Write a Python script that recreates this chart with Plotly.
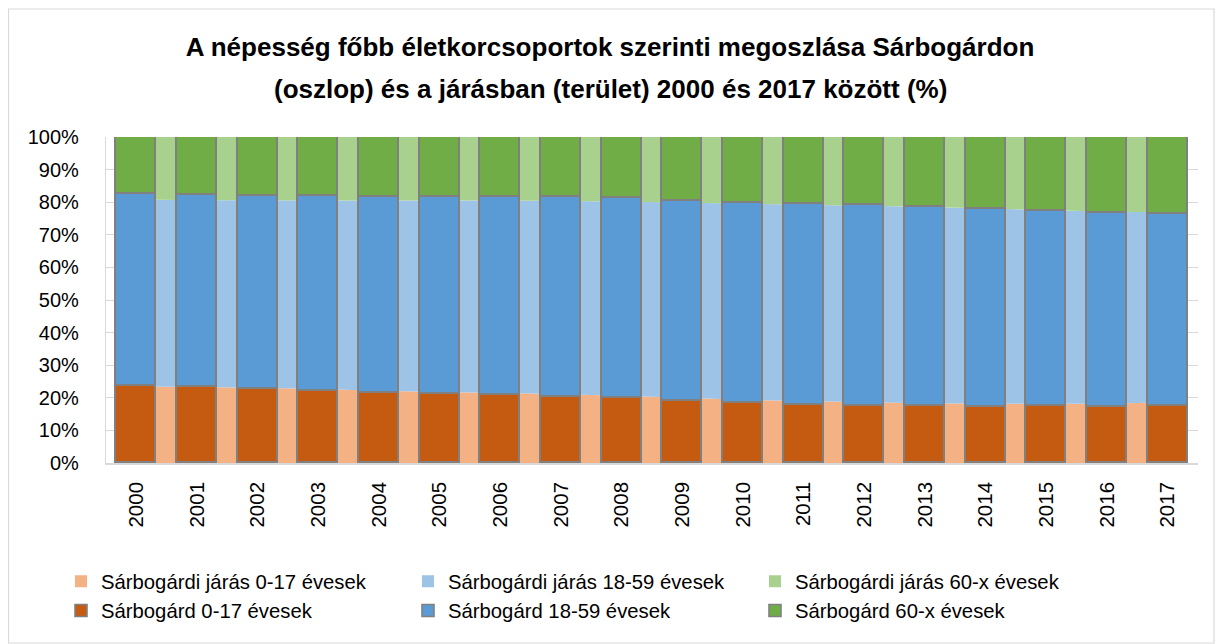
import plotly.graph_objects as go

years = [str(y) for y in range(2000, 2018)]

# Sárbogárdi járás (district) shares, % (area)
jaras_0_17 = [23.5, 23.3, 23.1, 22.7, 22.2, 21.8, 21.5, 21.1, 20.6, 20.0, 19.4, 19.0, 18.6, 18.3, 18.2, 18.2, 18.2, 18.6]
jaras_18_59 = [57.3, 57.3, 57.5, 57.8, 58.3, 58.7, 59.0, 59.3, 59.6, 59.8, 60.2, 60.2, 60.3, 60.3, 59.9, 59.4, 58.9, 58.3]
jaras_60x = [19.2, 19.4, 19.4, 19.5, 19.5, 19.5, 19.5, 19.6, 19.8, 20.2, 20.4, 20.8, 21.1, 21.4, 21.9, 22.4, 22.9, 23.1]

# Sárbogárd (town) shares, % (columns)
sarbogard_0_17 = [23.5, 23.2, 22.8, 22.0, 21.6, 21.2, 20.8, 20.4, 19.8, 19.0, 18.3, 17.9, 17.5, 17.4, 17.2, 17.4, 17.3, 17.4]
sarbogard_18_59 = [58.9, 58.9, 59.1, 59.8, 60.0, 60.4, 60.8, 61.1, 61.4, 61.5, 61.6, 61.5, 61.5, 61.2, 60.6, 60.0, 59.4, 59.0]
sarbogard_60x = [17.6, 17.9, 18.1, 18.2, 18.4, 18.4, 18.4, 18.5, 18.8, 19.5, 20.1, 20.6, 21.0, 21.4, 22.2, 22.6, 23.3, 23.6]

y_ticks = list(range(0, 101, 10))
y_tick_labels = [f"{v}%" for v in y_ticks]

title_line1 = "A népesség főbb életkorcsoportok szerinti megoszlása Sárbogárdon"
title_line2 = "(oszlop) és a járásban (terület) 2000 és 2017 között (%)"

jaras_names = ["Sárbogárdi járás 0-17 évesek", "Sárbogárdi járás 18-59 évesek", "Sárbogárdi járás 60-x évesek"]
town_names = ["Sárbogárd 0-17 évesek", "Sárbogárd 18-59 évesek", "Sárbogárd 60-x évesek"]
jaras_colors = ["#F4B183", "#9DC3E6", "#A9D18E"]
town_colors = ["#C55A11", "#5B9BD5", "#70AD47"]
legend_ids = ["legend", "legend2", "legend3"]

FONT = "Liberation Sans, Arial, sans-serif"

W, H = 1215, 636
ML, MR, MT, MB = 98, 25, 129, 181
PW, PH = W - ML - MR, H - MT - MB
PAGE_OFF = 8  # default page body margin

x_idx = list(range(len(years)))

fig = go.Figure()

# District: stacked areas (base axes, drawn below the columns)
for name, vals, col in zip(jaras_names, [jaras_0_17, jaras_18_59, jaras_60x], jaras_colors):
    fig.add_trace(go.Scatter(
        x=x_idx, y=vals, name=name, mode="none", stackgroup="jaras",
        fillcolor=col, showlegend=False, hoverinfo="name+y",
        xaxis="x", yaxis="y",
    ))

# legend swatches for the district series
for name, col, lg in zip(jaras_names, jaras_colors, legend_ids):
    fig.add_trace(go.Bar(
        x=[None], y=[None], name=name, marker=dict(color=col, line=dict(width=0)),
        xaxis="x", yaxis="y", showlegend=True, legend=lg,
    ))

# Town: stacked columns on overlay axes (drawn above the areas)
for name, vals, col, lg in zip(town_names, [sarbogard_0_17, sarbogard_18_59, sarbogard_60x], town_colors, legend_ids):
    fig.add_trace(go.Bar(
        x=x_idx, y=vals, name=name, width=0.66,
        marker=dict(color=col, line=dict(color="#808080", width=1.6)),
        xaxis="x2", yaxis="y2", legend=lg,
    ))

legend_common = dict(
    orientation="v", xanchor="left", y=-0.302, yanchor="top",
    font=dict(family=FONT, size=20.3, color="#000000"), itemwidth=30,
    traceorder="normal", bgcolor="rgba(0,0,0,0)",
)
text_starts = [91, 438, 785]  # page x anchors of legend columns

def page_x_to_paper(px):
    return (px - PAGE_OFF - ML) / PW

def page_y_to_paper(py):
    return (MT + PH - (py - PAGE_OFF)) / PH

fig.update_layout(
    width=W, height=H,
    paper_bgcolor="white", plot_bgcolor="white",
    margin=dict(l=ML, r=MR, t=MT, b=MB, autoexpand=False),
    barmode="stack", bargap=0,
    font=dict(family=FONT, color="#000000", size=20),
    title=dict(
        text=f"<b>{title_line1}</b>",
        x=(610 - PAGE_OFF) / W, xanchor="center", xref="container",
        y=1 - (47 - PAGE_OFF) / H, yanchor="middle", yref="container",
        font=dict(family=FONT, size=26, color="#000000"),
    ),
    annotations=[dict(
        text=f"<b>{title_line2}</b>", showarrow=False,
        xref="paper", yref="paper",
        x=page_x_to_paper(610), xanchor="center",
        y=page_y_to_paper(89), yanchor="middle",
        font=dict(family=FONT, size=26, color="#000000"),
    )],
    xaxis=dict(
        range=[-0.5, len(years) - 0.5],
        tickmode="array", tickvals=x_idx, ticktext=years, tickangle=-90,
        showgrid=False, showline=True, linecolor="#D9D9D9", linewidth=1.5,
        ticks="outside", ticklen=9, tickcolor="rgba(0,0,0,0)",
        tickfont=dict(family=FONT, size=20.5),
        zeroline=False, fixedrange=True,
    ),
    yaxis=dict(
        range=[0, 100], tickmode="array", tickvals=y_ticks, ticktext=y_tick_labels,
        showgrid=True, gridcolor="#D9D9D9", gridwidth=1.2,
        showline=True, linecolor="#D9D9D9", linewidth=1.2,
        ticks="outside", ticklen=22, tickcolor="rgba(0,0,0,0)",
        tickfont=dict(family=FONT, size=20), zeroline=False, fixedrange=True,
    ),
    xaxis2=dict(overlaying="x", range=[-0.5, len(years) - 0.5], visible=False, fixedrange=True),
    yaxis2=dict(overlaying="y", range=[0, 100], visible=False, fixedrange=True),
    legend=dict(x=page_x_to_paper(text_starts[0] - 30), **legend_common),
    legend2=dict(x=page_x_to_paper(text_starts[1] - 30), **legend_common),
    legend3=dict(x=page_x_to_paper(text_starts[2] - 30), **legend_common),
    shapes=[dict(
        type="rect", xref="paper", yref="paper",
        x0=(0.5 - ML) / PW, x1=(1206 - ML) / PW,
        y0=-(H - 1 - (H - MB)) / PH, y1=(PH + MT - 1) / PH,
        line=dict(color="#D9D9D9", width=1.2), fillcolor="rgba(0,0,0,0)", layer="below",
    )],
)

fig.write_html("out.html")
